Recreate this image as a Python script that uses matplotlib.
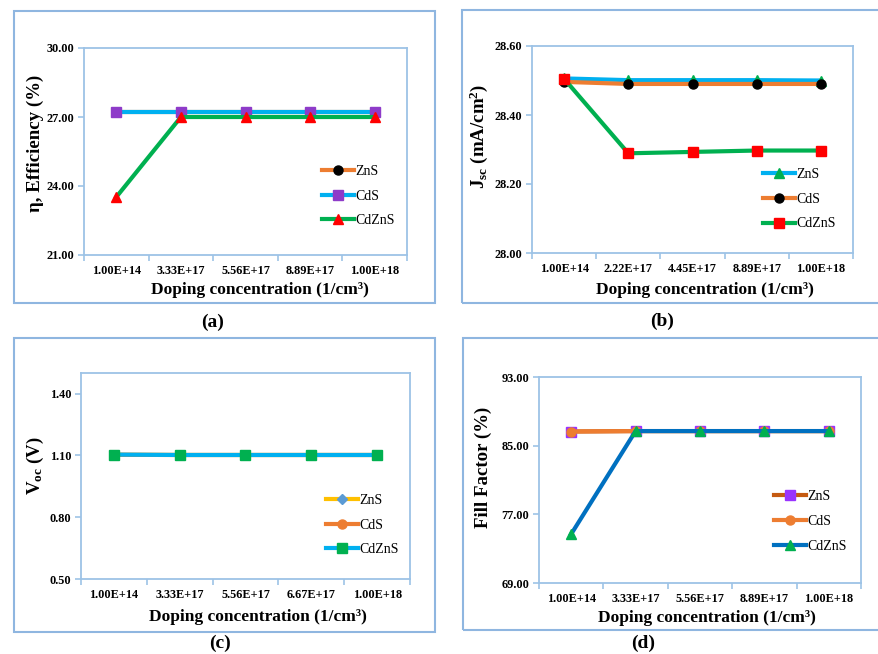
import matplotlib
matplotlib.use("Agg")
import matplotlib.pyplot as plt
from matplotlib.patches import Rectangle

plt.rcParams['font.family'] = ['Liberation Serif', 'DejaVu Serif']
plt.rcParams['mathtext.fontset'] = 'custom'
plt.rcParams['mathtext.rm'] = 'Liberation Serif'
plt.rcParams['mathtext.bf'] = 'Liberation Serif:bold'
plt.rcParams['mathtext.it'] = 'Liberation Serif:italic'

# ---------------- data ----------------
series_names = ["ZnS", "CdS", "CdZnS"]

xlab_a = ["1.00E+14", "3.33E+17", "5.56E+17", "8.89E+17", "1.00E+18"]
eff_zns = [27.22, 27.22, 27.22, 27.22, 27.22]
eff_cds = [27.22, 27.22, 27.22, 27.22, 27.22]
eff_cdzns = [23.52, 27.00, 27.00, 27.00, 27.00]

xlab_b = ["1.00E+14", "2.22E+17", "4.45E+17", "8.89E+17", "1.00E+18"]
jsc_zns = [28.506, 28.501, 28.501, 28.501, 28.500]
jsc_cds = [28.496, 28.490, 28.490, 28.490, 28.490]
jsc_cdzns = [28.505, 28.289, 28.293, 28.297, 28.297]

xlab_c = ["1.00E+14", "3.33E+17", "5.56E+17", "6.67E+17", "1.00E+18"]
voc_zns = [1.103, 1.102, 1.102, 1.102, 1.102]
voc_cds = [1.103, 1.102, 1.102, 1.102, 1.102]
voc_cdzns = [1.104, 1.102, 1.102, 1.102, 1.102]

xlab_d = ["1.00E+14", "3.33E+17", "5.56E+17", "8.89E+17", "1.00E+18"]
ff_zns = [86.65, 86.70, 86.70, 86.70, 86.70]
ff_cds = [86.65, 86.70, 86.70, 86.70, 86.70]
ff_cdzns = [74.70, 86.70, 86.70, 86.70, 86.70]

W, H = 879, 654
fig = plt.figure(figsize=(W / 100, H / 100), dpi=100)

AXC = '#9DC3E6'
FRAME = '#8FB6E0'


def px_axes(x0, y0, x1, y1):
    return fig.add_axes([x0 / W, 1 - y1 / H, (x1 - x0) / W, (y1 - y0) / H])


def frame(x0, y0, x1, y1):
    fig.patches.append(Rectangle((x0 / W, 1 - y1 / H), (x1 - x0) / W, (y1 - y0) / H,
                                 transform=fig.transFigure, fill=False,
                                 edgecolor=FRAME, linewidth=1.5))


def style(ax, labels, ylim, yticks, ylabel, xlab_pos, ylab_pos, leg_anchor):
    n = len(labels)
    ax.set_xlim(-0.5, n - 0.5)
    ax.set_ylim(*ylim)
    ax.set_xticks(range(n))
    ax.set_xticklabels(labels, fontsize=8.8, fontweight='bold')
    ax.set_xticks([i - 0.5 for i in range(n + 1)], minor=True)
    ax.tick_params(axis='x', which='major', length=0, pad=7)
    ax.tick_params(axis='x', which='minor', length=4, color=AXC, width=1.2)
    ax.set_yticks(yticks)
    ax.set_yticklabels([f"{v:.2f}" for v in yticks], fontsize=8.8, fontweight='bold')
    ax.tick_params(axis='y', length=4, color=AXC, width=1.2, pad=3)
    for s in ax.spines.values():
        s.set_color(AXC)
        s.set_linewidth(1.3)
    ax.set_xlabel("Doping concentration (1/cm³)", fontsize=12.5, fontweight='bold')
    ax.xaxis.set_label_coords(*xlab_pos)
    ax.xaxis.label.set_verticalalignment('center')
    ax.set_ylabel(ylabel, fontsize=13.6, fontweight='bold')
    ax.yaxis.set_label_coords(*ylab_pos)
    ax.yaxis.label.set_verticalalignment('center')
    leg = ax.legend(loc='center left', bbox_to_anchor=leg_anchor, frameon=False,
                    fontsize=10, handlelength=2.3, handletextpad=0.1,
                    labelspacing=0.85, borderpad=0, borderaxespad=0)
    return leg


LW = 3.0
MS = 6.5
MT = 7.2

# ---------------- (a) ----------------
ax = px_axes(84, 48, 407, 255)
x = range(len(xlab_a))
ax.plot(x, eff_zns, color='#ED7D31', lw=LW, marker='o', ms=MS, mfc='black', mec='black', label=series_names[0])
ax.plot(x, eff_cds, color='#00B0F0', lw=LW, marker='s', ms=MS, mfc='#8E3BC9', mec='#8E3BC9', label=series_names[1])
ax.plot(x, eff_cdzns, color='#00B050', lw=LW, marker='^', ms=MT, mfc='#FF0000', mec='#FF0000', label=series_names[2])
style(ax, xlab_a, (21, 30), [21, 24, 27, 30], "η, Efficiency (%)",
      (0.545, -0.169), (-0.152, 0.541), (0.737, 0.285))
frame(14, 11, 435, 303)
fig.text(213 / W, 1 - 322 / H, "(a)", fontsize=14, fontweight='bold', ha='center', va='center')

# ---------------- (b) ----------------
ax = px_axes(532, 46, 853, 253)
x = range(len(xlab_b))
ax.plot(x, jsc_zns, color='#00B0F0', lw=LW, marker='^', ms=MT, mfc='#00B050', mec='#00B050', label=series_names[0])
ax.plot(x, jsc_cds, color='#ED7D31', lw=LW, marker='o', ms=MS, mfc='black', mec='black', label=series_names[1])
ax.plot(x, jsc_cdzns, color='#00B050', lw=LW, marker='s', ms=MS, mfc='#FF0000', mec='#FF0000', label=series_names[2])
style(ax, xlab_b, (28.0, 28.6), [28.0, 28.2, 28.4, 28.6],
      r"$\mathbf{J_{sc}}$ (mA/cm$^{\mathbf{2}}$)",
      (0.539, -0.179), (-0.165, 0.565), (0.72, 0.26))
frame(462, 10, 905, 303)
fig.text(662 / W, 1 - 321 / H, "(b)", fontsize=14, fontweight='bold', ha='center', va='center')

# ---------------- (c) ----------------
ax = px_axes(81, 373, 410, 579)
x = range(len(xlab_c))
ax.plot(x, voc_zns, color='#FFC000', lw=LW, marker='D', ms=MS - 1.5, mfc='#5B9BD5', mec='#5B9BD5', label=series_names[0])
ax.plot(x, voc_cds, color='#ED7D31', lw=LW, marker='o', ms=MS, mfc='#ED7D31', mec='#ED7D31', label=series_names[1])
ax.plot(x, voc_cdzns, color='#00B0F0', lw=LW, marker='s', ms=MS, mfc='#00B050', mec='#00B050', label=series_names[2])
style(ax, xlab_c, (0.5, 1.5), [0.5, 0.8, 1.1, 1.4], r"V$_{\mathbf{oc}}$ (V)",
      (0.538, -0.184), (-0.14, 0.551), (0.745, 0.262))
frame(14, 338, 435, 632)
fig.text(220 / W, 1 - 643 / H, "(c)", fontsize=14, fontweight='bold', ha='center', va='center')

# ---------------- (d) ----------------
ax = px_axes(539, 377, 861, 583)
x = range(len(xlab_d))
ax.plot(x, ff_zns, color='#C55A11', lw=LW, marker='s', ms=MS, mfc='#9933FF', mec='#9933FF', label=series_names[0])
ax.plot(x, ff_cds, color='#ED7D31', lw=LW, marker='o', ms=MS, mfc='#ED7D31', mec='#ED7D31', label=series_names[1])
ax.plot(x, ff_cdzns, color='#0070C0', lw=LW, marker='^', ms=MT, mfc='#00B050', mec='#00B050', label=series_names[2])
style(ax, xlab_d, (69, 93), [69, 77, 85, 93], "Fill Factor (%)",
      (0.522, -0.170), (-0.174, 0.563), (0.73, 0.30))
frame(463, 338, 905, 630)
fig.text(643 / W, 1 - 643 / H, "(d)", fontsize=14, fontweight='bold', ha='center', va='center')

fig.savefig("out.png", dpi=100)
